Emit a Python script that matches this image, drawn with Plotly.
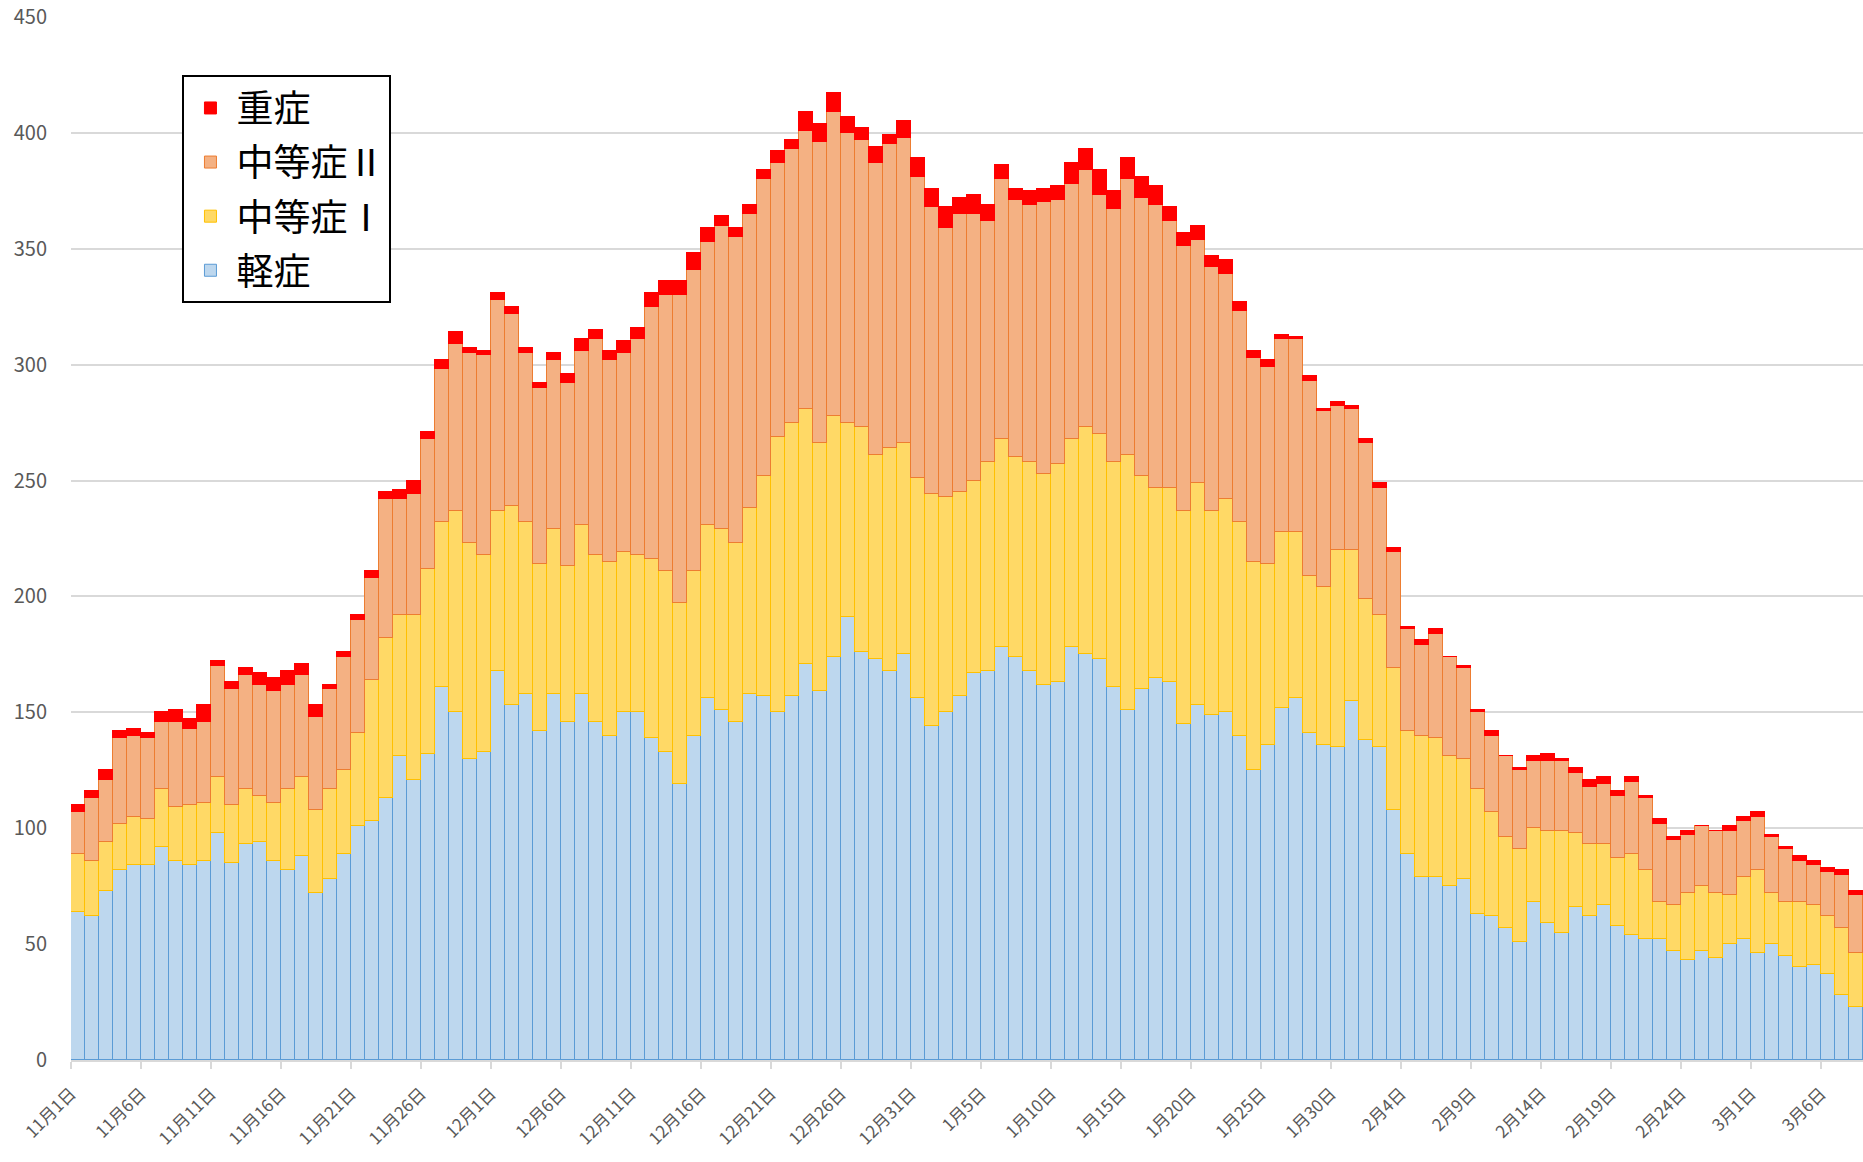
import pandas as pd
import plotly.graph_objects as go

# Dates 11/1 .. 3/8
dates = pd.date_range("2020-11-01", periods=128, freq="D")
categories = [f"{d.month}月{d.day}日" for d in dates]

mild = [64, 62, 73, 82, 84, 84, 92, 86, 84, 86, 98, 85, 93, 94, 86, 82, 88, 72, 78, 89,
        101, 103, 113, 131, 121, 132, 161, 150, 130, 133, 168, 153, 158, 142, 158, 146, 158, 146, 140, 150,
        150, 139, 133, 119, 140, 156, 151, 146, 158, 157, 150, 157, 171, 159, 174, 191, 176, 173, 168, 175,
        156, 144, 150, 157, 167, 168, 178, 174, 168, 162, 163, 178, 175, 173, 161, 151, 160, 165, 163, 145,
        153, 149, 150, 140, 125, 136, 152, 156, 141, 136, 135, 155, 138, 135, 108, 89, 79, 79, 75, 78,
        63, 62, 57, 51, 68, 59, 55, 66, 62, 67, 58, 54, 52, 52, 47, 43, 47, 44, 50, 52,
        46, 50, 45, 40, 41, 37, 28, 23]
moderate1 = [25, 24, 21, 20, 21, 20, 25, 23, 26, 25, 24, 25, 24, 20, 25, 35, 34, 36, 39, 36,
             40, 61, 69, 61, 71, 80, 71, 87, 93, 85, 69, 86, 74, 72, 71, 67, 73, 72, 75, 69,
             68, 77, 78, 78, 71, 75, 78, 77, 80, 95, 119, 118, 110, 107, 104, 84, 97, 88, 96, 91,
             95, 100, 93, 88, 83, 90, 90, 86, 90, 91, 94, 90, 98, 97, 97, 110, 92, 82, 84, 92,
             96, 88, 92, 92, 90, 78, 76, 72, 68, 68, 85, 65, 61, 57, 61, 53, 61, 60, 56, 52,
             54, 45, 39, 40, 32, 40, 44, 32, 31, 26, 29, 35, 30, 16, 20, 29, 28, 28, 21, 27,
             36, 22, 23, 28, 26, 25, 29, 23]
moderate2 = [18, 27, 27, 37, 35, 35, 29, 37, 33, 35, 48, 50, 49, 48, 48, 45, 44, 40, 43, 49,
             49, 44, 60, 50, 52, 56, 66, 72, 82, 86, 91, 83, 73, 76, 73, 79, 75, 93, 87, 86,
             93, 109, 119, 133, 130, 122, 131, 132, 127, 128, 118, 118, 120, 130, 131, 125, 124, 126, 131, 132,
             130, 124, 116, 120, 115, 104, 112, 111, 111, 117, 114, 110, 111, 103, 109, 119, 120, 122, 115, 114,
             105, 105, 97, 91, 88, 85, 83, 83, 84, 76, 62, 61, 67, 55, 50, 44, 39, 45, 43, 39,
             33, 33, 35, 34, 29, 30, 30, 26, 25, 26, 27, 31, 31, 34, 28, 25, 26, 27, 28, 24,
             23, 24, 23, 18, 17, 19, 23, 25]
severe = [3, 3, 4, 3, 3, 2, 4, 5, 4, 7, 2, 3, 3, 5, 6, 6, 5, 5, 2, 2,
          2, 3, 3, 4, 6, 3, 4, 5, 2, 2, 3, 3, 2, 2, 3, 4, 5, 4, 4, 5,
          5, 6, 6, 6, 7, 6, 4, 4, 4, 4, 5, 4, 8, 8, 8, 7, 5, 7, 4, 7,
          8, 8, 9, 7, 8, 7, 6, 5, 6, 6, 6, 9, 9, 11, 8, 9, 9, 8, 6, 6,
          6, 5, 6, 4, 3, 3, 2, 1, 2, 1, 2, 1, 2, 2, 2, 1, 2, 2, 0, 1,
          1, 2, 0, 1, 2, 3, 1, 2, 3, 3, 2, 2, 1, 2, 1, 2, 0, 0, 2, 2,
          2, 1, 1, 2, 2, 2, 2, 2]

y_ticks = [0, 50, 100, 150, 200, 250, 300, 350, 400, 450]

# (name, values, fill, outline, legend rank)
series = [
    ("軽症", mild, "#BDD7EE", "#5B9BD5", 4),
    ("中等症Ⅰ", moderate1, "#FFD966", "#FFC000", 3),
    ("中等症Ⅱ", moderate2, "#F4B183", "#ED7D31", 2),
    ("重症", severe, "#FF0000", "#FF0000", 1),
]

x = list(range(len(categories)))
fig = go.Figure()
for name, vals, fill, line, rank in series:
    fig.add_trace(go.Bar(
        x=x, y=vals, name=name, legendgroup=name, legendrank=rank,
        marker=dict(color=fill, line=dict(color=line, width=1)),
        customdata=categories,
        hovertemplate="%{customdata}<br>" + name + ": %{y}<extra></extra>",
    ))

font_family = "Noto Sans CJK JP, Noto Sans, sans-serif"
tick_idx = list(range(0, len(categories), 5))
fig.update_layout(
    width=1863, height=1162,
    barmode="stack", bargap=0,
    plot_bgcolor="white", paper_bgcolor="white",
    margin=dict(l=71, r=0, t=17, b=102, autoexpand=False),
    font=dict(family=font_family, color="#595959"),
    legend=dict(
        x=0.0622, y=0.944, xanchor="left", yanchor="top",
        traceorder="grouped", tracegroupgap=3, itemwidth=42,
        bordercolor="black", borderwidth=2, bgcolor="white",
        font=dict(size=37, color="black", family=font_family),
    ),
    showlegend=True,
)
fig.update_xaxes(
    range=[-0.5, len(categories) - 0.5],
    tickmode="array",
    tickvals=[i - 0.5 for i in tick_idx],
    ticktext=[categories[i] for i in tick_idx],
    tickangle=-45, automargin=False,
    ticks="outside", ticklen=7, tickcolor="#D9D9D9", tickwidth=2,
    showline=True, linecolor="#D9D9D9", linewidth=2,
    showgrid=False, ticklabelstandoff=8,
    tickfont=dict(size=17, color="#595959", family=font_family),
)
fig.update_yaxes(
    range=[0, 450], automargin=False,
    tickmode="array", tickvals=y_ticks,
    showgrid=True, gridcolor="#D9D9D9", gridwidth=1.5,
    zeroline=False, showline=False,
    ticks="", ticklabelstandoff=23, ticklabeloverflow="allow",
    tickfont=dict(size=20, color="#595959", family=font_family),
)

# remove the default page margin so the figure fills the window exactly
fig.write_html(
    "out.html",
    config={"displayModeBar": False},
    post_script="document.body.style.margin='0';document.body.style.overflow='hidden';",
)
